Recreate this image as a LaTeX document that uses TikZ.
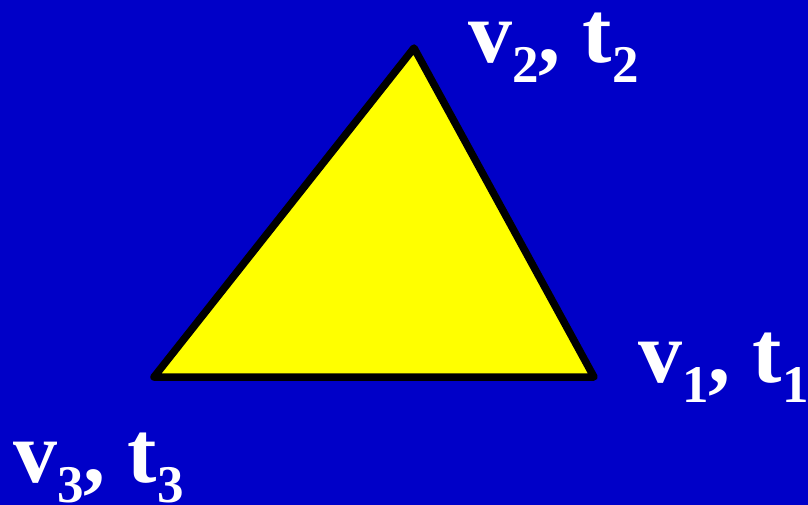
\documentclass[tikz,border=0pt]{standalone}
\usepackage{fontspec}
\setmainfont{Liberation Serif}
\usepackage{tikz}
\usetikzlibrary{positioning}
\definecolor{slideblue}{RGB}{0,0,200}
\definecolor{triyellow}{RGB}{255,255,0}
\newcommand{\sublab}[1]{\lower20pt\hbox{\fontsize{53}{53}\selectfont #1}}
\newcommand{\vtlab}[1]{v\sublab{#1}, t\sublab{#1}}

\begin{document}
\begin{tikzpicture}[
    x=1pt, y=-1pt,
    vlabel/.style={anchor=base west, inner sep=0pt, text height=55pt, text depth=21pt, text=white, font=\fontsize{88}{88}\selectfont\bfseries},
    tri/.style={draw=black, fill=triyellow, line width=7.5pt, line join=round}
]
    \fill[slideblue] (0,0) rectangle (808,505);
    \useasboundingbox (0,0) rectangle (808,505);

    \coordinate (p1) at (594,377);
    \coordinate (p2) at (414,48);
    \coordinate (p3) at (154,377);
    \draw[tri] (p1) -- (p2) -- (p3) -- cycle;

    \node[vlabel] (lab2) at (468,63) {\vtlab{2}};
    \node[vlabel] (lab1) at (638,382) {\vtlab{1}};
    \node[vlabel] (lab3) at (13,482) {\vtlab{3}};
\end{tikzpicture}
\end{document}
